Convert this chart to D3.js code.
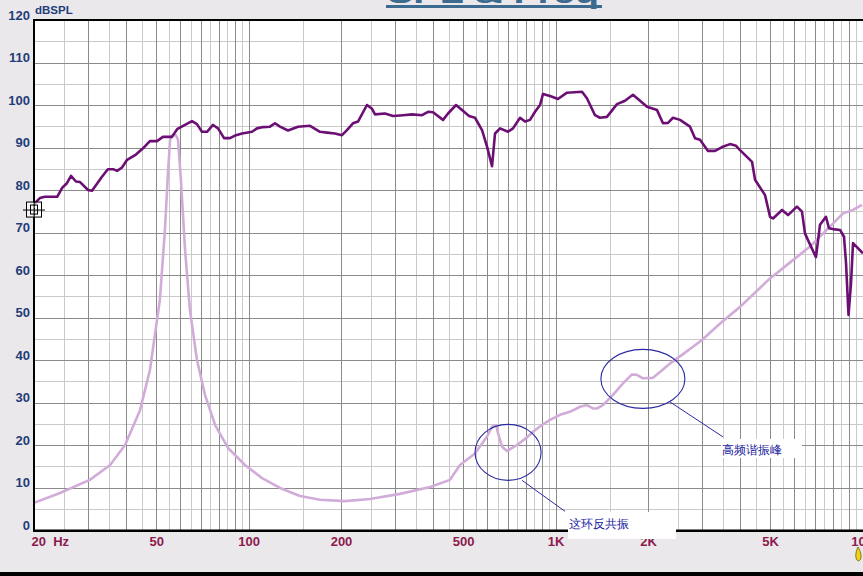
<!DOCTYPE html>
<html><head><meta charset="utf-8">
<script src="https://cdn.jsdelivr.net/npm/d3@7/dist/d3.min.js"></script>
<style>
html,body{margin:0;padding:0;background:#ebe8eb;overflow:hidden}
svg{display:block}
text{font-family:Arial,"Liberation Sans",sans-serif}
</style></head><body>
<svg id="c" width="863" height="576"></svg>
<script>
// ---- data ----
const splFreq = [20,20.9,21.7,23.8,24.7,25.6,26.4,27.4,28.2,30.0,30.9,33.3,34.8,36.2,37.3,38.7,40.2,42.7,45.3,47.7,50.3,52.6,56.3,58.5,61.2,65.4,67.9,70.5,73.2,76.6,79.5,83.2,87.0,91.0,95.2,102.6,106.5,111.4,117.4,121.9,126.6,134.4,144.9,158.5,170.9,180.1,191.1,201.5,209.1,218.8,227.2,243.0,252.4,258.1,278.2,295.4,318.4,340.6,367.2,384.1,398.8,429.9,446.3,473.9,495.6,522.4,546.5,576.0,598.0,620.9,635.0,659.3,699.9,726.6,766.0,795.2,825.6,857.1,889.9,910.1,959.2,1018,1089,1219,1265,1344,1395,1470,1585,1683,1787,1884,1985,2140,2238,2324,2412,2543,2741,2846,2954,3137,3306,3485,3700,3871,3989,4365,4464,4811,4995,5109,5465,5716,6113,6347,6492,6640,7049,7265,7598,7771,8008,8443,8700,8832,8999,9168,9308,10030];
const splDb = [76.7,78.1,78.4,78.4,80.5,81.6,83.3,82.0,81.9,80.0,79.8,83.1,84.9,84.9,84.5,85.3,87.1,88.2,89.8,91.5,91.5,92.5,92.5,94.3,95.1,96.2,95.5,93.7,93.7,95.3,94.5,92.2,92.2,92.9,93.3,93.7,94.5,94.8,94.9,95.7,94.9,94.0,94.9,95.1,93.7,93.5,93.3,92.9,94.1,95.7,96.1,100.0,99.1,97.8,98.0,97.4,97.6,97.8,97.6,98.4,98.3,96.5,98.0,100.0,98.8,97.4,97.0,94.1,90.2,85.6,93.3,94.5,93.7,94.5,97.0,96.1,96.5,98.4,100.0,102.6,102.1,101.4,102.9,103.1,101.6,97.6,97.0,97.2,100.2,101.0,102.4,101.0,99.6,98.8,95.7,95.8,97.0,96.5,94.9,92.2,91.8,89.2,89.2,90.1,90.8,90.4,89.4,86.6,82.4,78.8,73.7,73.3,75.3,74.1,76.1,74.9,69.8,68.2,64.2,71.8,73.7,71.0,70.8,70.6,69.0,62.8,50.6,58.0,67.5,65.1];
const impFreq = [20,24.3,30.4,35.4,39.6,44.3,47.7,51.4,53.4,54.7,55.5,56.3,58.0,58.9,60.2,62.1,64.4,67.9,72.1,77.8,85.7,97.3,110.6,126.6,147.0,170.9,206.0,248.6,311.3,390.0,452.9,488.2,546.5,598.0,620.9,639.8,649.5,669.2,694.7,748.8,807.3,844.4,903.0,959.2,1034,1114,1201,1265,1323,1365,1427,1538,1658,1773,1841,1925,2076,2188,2359,2581,2803,2999,3434,3989,4995,5933,6743,7830,8635,9308,9960];
const impDb = [6.4,8.7,11.8,15.3,20.0,28.2,37.6,54.1,70.6,84.7,91.8,92.9,92.9,91.8,82.4,65.9,51.8,40.0,31.8,24.7,19.3,15.3,12.2,9.9,8.0,7.1,6.8,7.3,8.5,10.1,11.8,15.3,18.0,22.0,24.3,24.7,22.8,19.6,18.6,20.0,21.8,23.1,24.7,25.9,27.1,27.8,29.0,29.4,28.6,28.6,29.4,31.8,34.5,36.6,36.5,35.7,35.8,37.2,39.2,41.2,43.1,44.7,48.6,52.5,59.2,63.5,66.7,71.4,74.5,75.3,76.5];
const yTicks = [0,10,20,30,40,50,60,70,80,90,100,110,120];
const xTickValues = [20,50,100,200,500,1000,2000,5000,10000];
const xTickLabels = ["20  Hz","50","100","200","500","1K","2K","5K","10K"];
const titleText = "SPL & Freq";
const yUnit = "dBSPL";
const notes = [
  {text:"这环反共振", cf:695, cdb:18.5},
  {text:"高频谐振峰", cf:1925, cdb:35.8}
];

// ---- layout ----
const svg = d3.select("#c");
const L = 34, T = 20, B = 530;
const x = d3.scaleLog().domain([20, 20000]).range([L, L + 307*3]);
const y = d3.scaleLinear().domain([0, 120]).range([B, T]);
const W = 863;

svg.append("rect").attr("x", L).attr("y", T).attr("width", W - L).attr("height", B - T).attr("fill", "#fff");

svg.append("clipPath").attr("id","pc").append("rect")
  .attr("x", L).attr("y", T).attr("width", W - L).attr("height", B - T);

const g = svg.append("g").attr("clip-path","url(#pc)");

const minorX = [], majorX = [];
for (let dec = 10; dec <= 10000; dec *= 10) {
  for (let n = 1; n <= 9; n++) {
    majorX.push(n*dec);
    minorX.push((n+0.5)*dec);
  }
}
g.append("g").attr("transform",`translate(0,${B})`)
  .call(d3.axisBottom(x).tickValues(minorX.filter(v=>v>20)).tickSize(-(B-T)).tickFormat(""))
  .call(a=>a.select(".domain").remove())
  .call(a=>a.selectAll("line").attr("stroke","#c9c9c9").attr("stroke-width",1).attr("shape-rendering","crispEdges"));
g.append("g").attr("transform",`translate(${L},0)`)
  .call(d3.axisLeft(y).tickValues(d3.range(5,120,10)).tickSize(-(W-L)).tickFormat(""))
  .call(a=>a.select(".domain").remove())
  .call(a=>a.selectAll("line").attr("stroke","#c9c9c9").attr("stroke-width",1).attr("shape-rendering","crispEdges"));
g.append("g").attr("transform",`translate(0,${B})`)
  .call(d3.axisBottom(x).tickValues(majorX.filter(v=>v>20)).tickSize(-(B-T)).tickFormat(""))
  .call(a=>a.select(".domain").remove())
  .call(a=>a.selectAll("line").attr("stroke","#8a8a8a").attr("stroke-width",1).attr("shape-rendering","crispEdges"));
g.append("g").attr("transform",`translate(${L},0)`)
  .call(d3.axisLeft(y).tickValues(yTicks.filter(v=>v>0&&v<120)).tickSize(-(W-L)).tickFormat(""))
  .call(a=>a.select(".domain").remove())
  .call(a=>a.selectAll("line").attr("stroke","#8a8a8a").attr("stroke-width",1).attr("shape-rendering","crispEdges"));

const line = d3.line().x(d=>x(d[0])).y(d=>y(d[1]));
g.append("path").datum(impFreq.map((f,i)=>[f,impDb[i]]))
  .attr("d", line).attr("fill","none").attr("stroke","#d2acd9").attr("stroke-width",2.6).attr("stroke-linejoin","round");
g.append("path").datum(splFreq.map((f,i)=>[f,splDb[i]]))
  .attr("d", line).attr("fill","none").attr("stroke","#6c0f74").attr("stroke-width",2.6).attr("stroke-linejoin","round");

svg.append("line").attr("x1",L-1).attr("x2",W).attr("y1",T).attr("y2",T).attr("stroke","#000").attr("stroke-width",2);
svg.append("line").attr("x1",L).attr("x2",L).attr("y1",T-1).attr("y2",B+1.5).attr("stroke","#000").attr("stroke-width",2);
svg.append("line").attr("x1",L-1).attr("x2",W).attr("y1",B+0.8).attr("y2",B+0.8).attr("stroke","#000").attr("stroke-width",2.5);

svg.append("g").attr("transform",`translate(${L-4},0)`)
  .call(d3.axisLeft(y).tickValues(yTicks).tickSize(0).tickPadding(0))
  .call(a=>a.select(".domain").remove())
  .call(a=>a.selectAll("text").attr("fill","#1f3d78").attr("font-size",13).attr("font-weight","bold")
      .attr("font-family","Arial, 'Liberation Sans', sans-serif").attr("dy","-0.05em"));
svg.append("text").attr("x",35).attr("y",14).text(yUnit)
  .attr("fill","#1f3d78").attr("font-size",11.5).attr("font-weight","bold");

svg.append("g").attr("transform",`translate(0,${B})`)
  .call(d3.axisBottom(x).tickValues(xTickValues).tickSize(0).tickPadding(4)
        .tickFormat((d,i)=>xTickLabels[i]))
  .call(a=>a.select(".domain").remove())
  .call(a=>a.selectAll("text").attr("fill","#8c1a4e").attr("font-size",13).attr("font-weight","bold")
      .attr("font-family","Arial, 'Liberation Sans', sans-serif")
      .attr("dy","0.95em")
      .style("white-space","pre")
      .attr("text-anchor",(d,i)=>i===0?"start":"middle")
      .attr("dx",(d,i)=>i===0?"-3":"0"));

svg.append("text").attr("x",387).attr("y",3).text(titleText)
  .attr("fill","#3d6a8f").attr("font-size",30).attr("font-weight","bold")
  .attr("textLength",212).attr("lengthAdjust","spacingAndGlyphs");
svg.append("rect").attr("x",386).attr("y",5).attr("width",216).attr("height",3).attr("fill","#3d6a8f");

const ann = svg.append("g");
const a1 = {cx:x(notes[0].cf)+1, cy:y(notes[0].cdb)+1, rx:33, ry:28};
const a2 = {cx:x(notes[1].cf), cy:y(notes[1].cdb)+1, rx:42, ry:29.5};
[a1,a2].forEach(e=>{
  ann.append("ellipse").attr("cx",e.cx).attr("cy",e.cy).attr("rx",e.rx).attr("ry",e.ry)
    .attr("fill","none").attr("stroke","#2a2aa0").attr("stroke-width",1.1);
});
ann.append("line").attr("x1",a1.cx+14).attr("y1",a1.cy+28).attr("x2",a1.cx+57).attr("y2",a1.cy+59)
  .attr("stroke","#2a2aa0").attr("stroke-width",1);
ann.append("line").attr("x1",a2.cx+27).attr("y1",a2.cy+23).attr("x2",a2.cx+80).attr("y2",a2.cy+58)
  .attr("stroke","#2a2aa0").attr("stroke-width",1);
ann.append("rect").attr("x",568).attr("y",512).attr("width",108).attr("height",27).attr("fill","#fff");
ann.append("text").attr("x",569).attr("y",528).text(notes[0].text)
  .attr("fill","#1a1aa0").attr("font-size",12).attr("font-family","'Noto Sans CJK SC', sans-serif");
ann.append("rect").attr("x",721).attr("y",439).attr("width",81).attr("height",19).attr("fill","#fff");
ann.append("text").attr("x",722).attr("y",454).text(notes[1].text)
  .attr("fill","#1a1aa0").attr("font-size",12).attr("font-family","'Noto Sans CJK SC', sans-serif");

const mk = svg.append("g").attr("transform",`translate(${L},${y(75.4)})`).attr("stroke","#000").attr("fill","none").attr("stroke-width",1);
mk.append("rect").attr("x",-7.5).attr("y",-7.5).attr("width",15).attr("height",15).attr("fill","rgba(255,255,255,0.6)");
mk.append("rect").attr("x",-3.5).attr("y",-4.5).attr("width",7).attr("height",9);
mk.append("line").attr("x1",-11).attr("x2",11).attr("y1",0.5).attr("y2",0.5);
mk.append("line").attr("x1",0.5).attr("x2",0.5).attr("y1",-11).attr("y2",11).attr("stroke-dasharray","2,1");

svg.append("path").attr("d","M858,547 C855,553 855,560 858.5,561 C862,560 862,553 858,547 Z")
  .attr("fill","#f2d21a").attr("stroke","#6a5a00").attr("stroke-width",0.8);

svg.append("rect").attr("x",0).attr("y",572).attr("width",863).attr("height",4).attr("fill","#000");
</script>
</body></html>
